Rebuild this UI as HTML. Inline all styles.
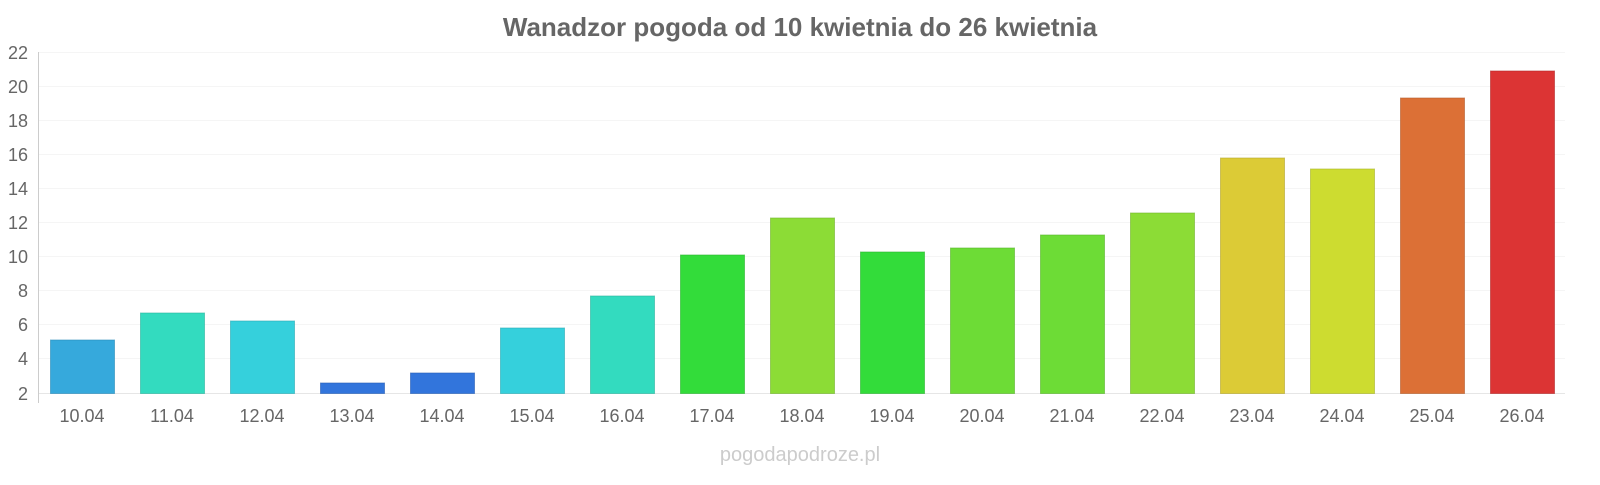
<!DOCTYPE html>
<html><head><meta charset="utf-8"><style>
body{margin:0;background:#fff;}
svg text{font-family:"Liberation Sans",sans-serif;}
</style></head><body>
<svg width="1600" height="480" xmlns="http://www.w3.org/2000/svg">
<text x="800" y="36" text-anchor="middle" font-size="26" font-weight="bold" fill="#666">Wanadzor pogoda od 10 kwietnia do 26 kwietnia</text>
<g stroke="#f5f5f5" stroke-width="1">
<line x1="38" x2="1565" y1="52.5" y2="52.5"/><line x1="38" x2="1565" y1="86.5" y2="86.5"/>
<line x1="38" x2="1565" y1="120.5" y2="120.5"/><line x1="38" x2="1565" y1="154.5" y2="154.5"/>
<line x1="38" x2="1565" y1="188.5" y2="188.5"/><line x1="38" x2="1565" y1="222.5" y2="222.5"/>
<line x1="38" x2="1565" y1="256.5" y2="256.5"/><line x1="38" x2="1565" y1="290.5" y2="290.5"/>
<line x1="38" x2="1565" y1="324.5" y2="324.5"/><line x1="38" x2="1565" y1="358.5" y2="358.5"/>
</g>
<line x1="38" x2="1565" y1="393.5" y2="393.5" stroke="#e6e6e6"/>
<line x1="38.5" x2="38.5" y1="52" y2="403" stroke="#ccc"/>
<g font-size="18" fill="#666" text-anchor="end">
<text x="28" y="59">22</text><text x="28" y="93">20</text><text x="28" y="127">18</text>
<text x="28" y="161">16</text><text x="28" y="195">14</text><text x="28" y="229">12</text>
<text x="28" y="263">10</text><text x="28" y="297">8</text><text x="28" y="331">6</text>
<text x="28" y="365">4</text><text x="28" y="400">2</text>
</g>
<g stroke-opacity="0.6" stroke-width="1">
<rect x="50.5" y="340" width="64" height="53.5" fill="#36a9dc" stroke="#2a8ab8"/>
<rect x="140.5" y="313" width="64" height="80.5" fill="#33dbbf" stroke="#2ab39c"/>
<rect x="230.5" y="321" width="64" height="72.5" fill="#35d0dc" stroke="#2aaab3"/>
<rect x="320.5" y="383" width="64" height="10.5" fill="#3275dc" stroke="#285eb3"/>
<rect x="410.5" y="373" width="64" height="20.5" fill="#3275dc" stroke="#285eb3"/>
<rect x="500.5" y="328" width="64" height="65.5" fill="#35d0dc" stroke="#2aaab3"/>
<rect x="590.5" y="296" width="64" height="97.5" fill="#33dbbf" stroke="#2ab39c"/>
<rect x="680.5" y="255" width="64" height="138.5" fill="#33dc3a" stroke="#2ab32f"/>
<rect x="770.5" y="218" width="64" height="175.5" fill="#8cdc36" stroke="#72b32c"/>
<rect x="860.5" y="252" width="64" height="141.5" fill="#33dc3a" stroke="#2ab32f"/>
<rect x="950.5" y="248" width="64" height="145.5" fill="#6ddc36" stroke="#59b32c"/>
<rect x="1040.5" y="235" width="64" height="158.5" fill="#6ddc36" stroke="#59b32c"/>
<rect x="1130.5" y="213" width="64" height="180.5" fill="#8cdc36" stroke="#72b32c"/>
<rect x="1220.5" y="158" width="64" height="235.5" fill="#dccb36" stroke="#b3a52c"/>
<rect x="1310.5" y="169" width="64" height="224.5" fill="#cddc30" stroke="#a7b327"/>
<rect x="1400.5" y="98" width="64" height="295.5" fill="#dc7036" stroke="#b35b2c"/>
<rect x="1490.5" y="71" width="64" height="322.5" fill="#dc3434" stroke="#b32a2a"/>
</g>
<g font-size="18" fill="#666" text-anchor="middle">
<text x="82" y="422">10.04</text><text x="172" y="422">11.04</text><text x="262" y="422">12.04</text>
<text x="352" y="422">13.04</text><text x="442" y="422">14.04</text><text x="532" y="422">15.04</text>
<text x="622" y="422">16.04</text><text x="712" y="422">17.04</text><text x="802" y="422">18.04</text>
<text x="892" y="422">19.04</text><text x="982" y="422">20.04</text><text x="1072" y="422">21.04</text>
<text x="1162" y="422">22.04</text><text x="1252" y="422">23.04</text><text x="1342" y="422">24.04</text>
<text x="1432" y="422">25.04</text><text x="1522" y="422">26.04</text>
</g>
<text x="800" y="461" text-anchor="middle" font-size="20" fill="#ccc">pogodapodroze.pl</text>
</svg>
</body></html>
